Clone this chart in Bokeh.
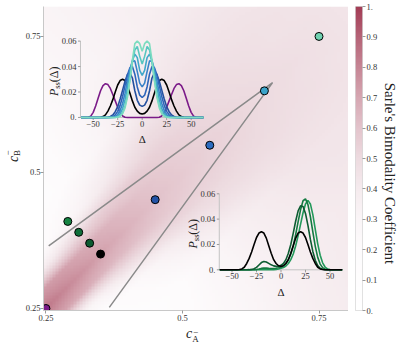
import numpy as np
from bokeh.plotting import figure
from bokeh.models import (Range1d, LinearColorMapper, FixedTicker, CustomJSTickFormatter)
from bokeh.layouts import row, column
from bokeh.embed import file_html
from bokeh.resources import INLINE
from bokeh.core.properties import value

# ---------------- data ----------------
# Sarle's bimodality coefficient, tabulated along the diagonal
# s = (cA + cB)/2 (rows) against the signed offset d = cB - cA (columns)
grid_s = [0.25, 0.30, 0.35, 0.40, 0.45, 0.50, 0.55, 0.60, 0.65, 0.70, 0.75, 0.80]
grid_d = [-0.55, -0.35, -0.20, -0.12, -0.08, -0.04, 0.0, 0.04, 0.08, 0.12, 0.20, 0.35, 0.55]
bc_table = [
    [0.10, 0.10, 0.10, 0.15, 0.30, 0.72, 0.84, 0.74, 0.35, 0.15, 0.10, 0.10, 0.10],
    [0.15, 0.12, 0.12, 0.15, 0.30, 0.68, 0.78, 0.72, 0.40, 0.18, 0.12, 0.12, 0.15],
    [0.25, 0.20, 0.15, 0.22, 0.42, 0.64, 0.72, 0.68, 0.50, 0.28, 0.15, 0.15, 0.20],
    [0.30, 0.25, 0.20, 0.32, 0.48, 0.61, 0.66, 0.64, 0.55, 0.38, 0.22, 0.20, 0.25],
    [0.35, 0.30, 0.28, 0.42, 0.52, 0.58, 0.61, 0.60, 0.56, 0.46, 0.30, 0.25, 0.28],
    [0.38, 0.35, 0.35, 0.47, 0.52, 0.55, 0.57, 0.56, 0.54, 0.50, 0.38, 0.30, 0.30],
    [0.40, 0.38, 0.40, 0.48, 0.51, 0.53, 0.54, 0.53, 0.52, 0.50, 0.42, 0.33, 0.32],
    [0.42, 0.40, 0.43, 0.48, 0.50, 0.51, 0.52, 0.51, 0.50, 0.49, 0.44, 0.36, 0.34],
    [0.42, 0.42, 0.44, 0.47, 0.48, 0.49, 0.50, 0.49, 0.48, 0.47, 0.44, 0.38, 0.35],
    [0.42, 0.42, 0.44, 0.46, 0.47, 0.47, 0.48, 0.47, 0.46, 0.46, 0.44, 0.40, 0.38],
    [0.42, 0.42, 0.43, 0.45, 0.45, 0.46, 0.46, 0.46, 0.45, 0.45, 0.43, 0.41, 0.40],
    [0.42, 0.42, 0.43, 0.44, 0.44, 0.44, 0.44, 0.44, 0.44, 0.44, 0.43, 0.42, 0.42],
]

point_cA = [0.25, 0.35, 0.33, 0.31, 0.29, 0.45, 0.55, 0.65, 0.75]
point_cB = [0.25, 0.35, 0.37, 0.39, 0.41, 0.45, 0.55, 0.65, 0.75]
point_colors = ["#7b1a88", "#000000", "#0b5a30", "#0f6e3a", "#178443",
                "#2353a6", "#2c6cc0", "#3aa3c9", "#6fd1b0"]

wedge_cA = [0.255, 0.665, 0.366]
wedge_cB = [0.365, 0.665, 0.252]

main_ticks = [0.25, 0.5, 0.75]
cbar_ticks = [0.0, 0.1, 0.2, 0.3, 0.4, 0.5, 0.6, 0.7, 0.8, 0.9, 1.0]
cbar_title = "Sarle's Bimodality Coefficient"

# P_ss(Delta) curves, Delta >= 0 half (symmetric distributions)
delta_half = [0, 2.5, 5, 7.5, 10, 12.5, 15, 17.5, 20, 22.5, 25, 27.5, 30,
              32.5, 35, 37.5, 40, 42.5, 45, 47.5, 50, 52.5, 55, 57.5, 60, 62.5]
purple_half = [0, 0, 0, 0, 0, 0, 0, 0.0002, 0.0012, 0.004, 0.008, 0.013, 0.018,
               0.0228, 0.0258, 0.0265, 0.025, 0.021, 0.015, 0.009, 0.004, 0.001, 0.0002, 0, 0, 0]
black_half = [0.0027, 0.0032, 0.005, 0.008, 0.013, 0.019, 0.025, 0.029, 0.030, 0.029, 0.0255, 0.020, 0.014,
              0.009, 0.005, 0.002, 0.0007, 0.0002, 0, 0, 0, 0, 0, 0, 0, 0]
blue1_half = [0.0087, 0.0097, 0.0135, 0.021, 0.031, 0.035, 0.034, 0.0285, 0.0215, 0.0145, 0.0085, 0.0045, 0.002,
              0.0008, 0.0002, 0, 0, 0, 0, 0, 0, 0, 0, 0, 0, 0]
blue2_half = [0.0157, 0.0175, 0.024, 0.034, 0.040, 0.039, 0.0335, 0.025, 0.0165, 0.0095, 0.0048, 0.002, 0.0007,
              0.0002, 0, 0, 0, 0, 0, 0, 0, 0, 0, 0, 0, 0]
blue3_half = [0.024, 0.027, 0.036, 0.0445, 0.044, 0.038, 0.029, 0.019, 0.011, 0.0055, 0.0023, 0.0008, 0.0002,
              0, 0, 0, 0, 0, 0, 0, 0, 0, 0, 0, 0, 0]
cyan_half = [0.033, 0.037, 0.047, 0.0498, 0.045, 0.0355, 0.024, 0.014, 0.007, 0.003, 0.001, 0.0002, 0,
             0, 0, 0, 0, 0, 0, 0, 0, 0, 0, 0, 0, 0]
aqua1_half = [0.042, 0.048, 0.0558, 0.053, 0.043, 0.030, 0.018, 0.009, 0.0038, 0.0013, 0.0004, 0, 0,
              0, 0, 0, 0, 0, 0, 0, 0, 0, 0, 0, 0, 0]
aqua2_half = [0.052, 0.058, 0.063, 0.058, 0.045, 0.029, 0.016, 0.0075, 0.003, 0.001, 0.0003, 0, 0,
              0, 0, 0, 0, 0, 0, 0, 0, 0, 0, 0, 0, 0]
upper_curves = [purple_half, black_half, blue1_half, blue2_half, blue3_half, cyan_half, aqua1_half, aqua2_half]
upper_colors = ["#7b1a88", "#000000", "#24509f", "#2d64ba", "#3982c8", "#41a8ca", "#58c6c0", "#7ddcc0"]

# lower inset: full Delta grid -62.5 .. 62.5
green1 = [0] * 12 + [0.0001, 0.0003, 0.0008, 0.0019, 0.0038, 0.0057, 0.0066, 0.0062, 0.0051, 0.0039, 0.0031,
                     0.0027, 0.0028, 0.0035, 0.005, 0.008, 0.013, 0.020, 0.029, 0.0385, 0.0465, 0.0505, 0.050,
                     0.0445, 0.035, 0.024, 0.0145, 0.0075, 0.0033, 0.0012, 0.0004, 0.0001] + [0] * 7
green2 = [0] * 15 + [0.0002, 0.0006, 0.0011, 0.0014, 0.0013, 0.0011, 0.001, 0.001, 0.0012, 0.0016, 0.0022,
                     0.0033, 0.005, 0.008, 0.0125, 0.019, 0.028, 0.038, 0.0475, 0.0545, 0.056, 0.0515, 0.042,
                     0.030, 0.0185, 0.0098, 0.0045, 0.0017, 0.0005, 0.0001] + [0] * 6
green3 = [0] * 22 + [0.0001, 0.0003, 0.0007, 0.0012, 0.0018, 0.003, 0.005, 0.008, 0.0125, 0.019, 0.027, 0.036,
                     0.045, 0.052, 0.0548, 0.052, 0.0435, 0.032, 0.0205, 0.0115, 0.0055, 0.0022, 0.0007,
                     0.0002] + [0] * 5
lower_colors = ["#0d5c32", "#147a41", "#22985a"]

inset_yticks = [0.0, 0.02, 0.04, 0.06]
inset_ytick_labels = ["0.", "0.02", "0.04", "0.06"]
inset_xticks = [-50, -25, 0, 25, 50]
inset_xtick_labels = ["\u221250", "\u221225", "0", "25", "50"]

# ---------------- styling / layout ----------------
SERIF = "Liberation Serif"
TXT = "#222222"
X0, X1 = 0.2455, 0.804
Y0, Y1 = 0.2463, 0.805
N = 101

anchors_v = [0.0, 0.2, 0.3, 0.4, 0.5, 0.6, 0.7, 0.8, 0.9, 1.0]
anchors_rgb = [(255, 255, 255), (253, 251, 252), (250, 245, 247), (245, 235, 238), (237, 219, 224),
               (227, 196, 204), (214, 167, 178), (198, 134, 149), (181, 99, 119), (163, 60, 85)]
lv = np.linspace(0, 1, 256)
ch = [np.interp(lv, anchors_v, [c[k] for c in anchors_rgb]) for k in range(3)]
palette = ["#%02x%02x%02x" % (int(round(r)), int(round(g)), int(round(b))) for r, g, b in zip(*ch)]
mapper = LinearColorMapper(palette=palette, low=0, high=1)

# field on the map grid
xs = X0 + (np.arange(N) + 0.5) * (X1 - X0) / N
ys = Y0 + (np.arange(N) + 0.5) * (Y1 - Y0) / N
CA, CB = np.meshgrid(xs, ys)
S = ((CA + CB) / 2).ravel()
D = (CB - CA).ravel()
tab = np.array(bc_table)
gs = np.array(grid_s)
rows_d = np.array([np.interp(D, grid_d, tab[k]) for k in range(len(grid_s))])
idx = np.clip(np.searchsorted(gs, S) - 1, 0, len(gs) - 2)
t = np.clip((S - gs[idx]) / (gs[idx + 1] - gs[idx]), 0, 1)
cols = np.arange(S.size)
field = (rows_d[idx, cols] * (1 - t) + rows_d[idx + 1, cols] * t).reshape(N, N)

p = figure(frame_width=305, frame_height=304, x_range=Range1d(X0, X1), y_range=Range1d(Y0, Y1),
           output_backend="svg", toolbar_location=None, min_border_left=18, min_border_right=0,
           min_border_top=6, min_border_bottom=15)
p.grid.visible = False
p.outline_line_color = None
p.image(image=[field], x=X0, y=Y0, dw=X1 - X0, dh=Y1 - Y0, color_mapper=mapper)

for ax in (p.xaxis[0], p.yaxis[0]):
    ax.ticker = FixedTicker(ticks=main_ticks, minor_ticks=[])
    ax.formatter = CustomJSTickFormatter(code="return String(+tick.toFixed(2))")
    ax.axis_line_color = "#c8c8c8"
    ax.major_tick_line_color = "#9a9a9a"
    ax.major_tick_out = 3
    ax.major_tick_in = 0
    ax.major_label_standoff = 0
    ax.major_label_text_font = SERIF
    ax.major_label_text_font_size = "8.5px"
    ax.major_label_text_color = "#333333"
p.xaxis[0].major_label_standoff = 1

p.line(wedge_cA, wedge_cB, line_color="#8a8a8a", line_width=1.5)


def inset(tx, ty):
    sub = p.subplot(x_source=Range1d(-63, 63), y_source=Range1d(0, 0.06),
                    x_target=Range1d(*tx), y_target=Range1d(*ty))
    sub.segment(x0=[-63, -63], y0=[0, 0], x1=[63, -63], y1=[0, 0.06], line_color="#c4c4c4", line_width=1)
    sub.segment(x0=[-63] * 4, y0=inset_yticks, x1=[-65.5] * 4, y1=inset_yticks,
                line_color="#9a9a9a", line_width=1)
    sub.segment(x0=inset_xticks, y0=[0] * 5, x1=inset_xticks, y1=[-0.002] * 5,
                line_color="#9a9a9a", line_width=1)
    sub.text(x=[-67] * 4, y=inset_yticks, text=inset_ytick_labels, text_font=value(SERIF),
             text_font_size="8.5px", text_align="right", text_baseline="middle", text_color="#333333")
    sub.text(x=inset_xticks, y=[-0.005] * 5, text=inset_xtick_labels, text_font=value(SERIF),
             text_font_size="8.5px", text_align="center", text_baseline="middle", text_color="#333333")
    sub.text(x=[0], y=[-0.0172], text=["\u0394"], text_font=value(SERIF), text_font_size="11px",
             text_align="center", text_baseline="middle", text_color=TXT)
    sub.text(x=[-90], y=[0.0197], text=["P"], text_font=value(SERIF), text_font_size="12px",
             text_font_style="italic", angle=np.pi / 2, text_align="center", text_baseline="middle",
             text_color=TXT)
    sub.text(x=[-87], y=[0.0252], text=["ss"], text_font=value(SERIF), text_font_size="8.5px",
             angle=np.pi / 2, text_align="center", text_baseline="middle", text_color=TXT)
    sub.text(x=[-90], y=[0.0338], text=["(\u0394)"], text_font=value(SERIF), text_font_size="12px",
             angle=np.pi / 2, text_align="center", text_baseline="middle", text_color=TXT)
    return sub


full_delta = [-d for d in reversed(delta_half[1:])] + delta_half


def mirror(h):
    return list(reversed(h[1:])) + list(h)


up = inset((0.3132, 0.5392), (0.6011, 0.7414))
for curve, col in zip(upper_curves, upper_colors):
    up.line(full_delta, np.minimum(mirror(curve), 0.06), line_color=col, line_width=1.6)

lo = inset((0.5674, 0.7934), (0.3211, 0.4608))
for curve, col in zip([green3, green2, green1], lower_colors[::-1]):
    lo.line(full_delta, np.minimum(curve, 0.06), line_color=col, line_width=1.6)
lo.line(full_delta, mirror(black_half), line_color="#000000", line_width=1.6)

p.scatter(point_cA, point_cB, size=8, fill_color=point_colors, line_color="#000000", line_width=1)


def label_strip(w, h):
    f = figure(width=w, height=h, x_range=Range1d(0, w), y_range=Range1d(h, 0), output_backend="svg",
               toolbar_location=None, min_border=0, x_axis_location=None, y_axis_location=None)
    f.grid.visible = False
    f.outline_line_color = None
    return f


# y axis label  c_B^-  (left strip, pixel coordinates)
ylab = label_strip(22, 325)
ylab.text(x=[12.5], y=[163], text=["c"], text_font=value(SERIF), text_font_size="14px",
          text_font_style="italic", angle=np.pi / 2, text_align="center", text_baseline="middle",
          text_color=TXT)
ylab.text(x=[16.3, 7.5], y=[156.5, 156.5], text=["B", "\u2212"], text_font=value(SERIF),
          text_font_size="9px", angle=np.pi / 2, text_align="center", text_baseline="middle",
          text_color=TXT)

# x axis label  c_A^-  (bottom strip, pixel coordinates)
xlab = label_strip(397, 30)
xlab.text(x=[188.7], y=[8], text=["c"], text_font=value(SERIF), text_font_size="14px",
          text_font_style="italic", text_align="center", text_baseline="middle", text_color=TXT)
xlab.text(x=[195, 195], y=[13.5, 6.0], text=["A", "\u2212"], text_font=value(SERIF),
          text_font_size="9px", text_align="center", text_baseline="middle", text_color=TXT)

# colour bar
cb = figure(frame_width=7, frame_height=304, x_range=Range1d(0, 1), y_range=Range1d(0, 1),
            output_backend="svg", toolbar_location=None, min_border_left=7, min_border_right=15,
            min_border_top=6, min_border_bottom=15, x_axis_location=None, y_axis_location="right")
cb.grid.visible = False
cb.outline_line_color = "#d8d8d8"
cb.image(image=[lv.reshape(256, 1)], x=0, y=0, dw=1, dh=1, color_mapper=mapper)
ay = cb.yaxis[0]
ay.ticker = FixedTicker(ticks=cbar_ticks, minor_ticks=[])
ay.formatter = CustomJSTickFormatter(code="return tick == 0 ? '0.' : (tick == 1 ? '1.' : tick.toFixed(1))")
ay.axis_line_color = None
ay.major_tick_line_color = "#9a9a9a"
ay.major_tick_out = 3
ay.major_tick_in = 0
ay.major_label_standoff = 1
ay.major_label_text_font = SERIF
ay.major_label_text_font_size = "8.5px"
ay.major_label_text_color = "#333333"

# colour-bar title (right strip, pixel coordinates)
tlab = label_strip(23, 325)
tlab.text(x=[9.5], y=[178.5], text=[cbar_title], text_font=value(SERIF), text_font_size="15px",
          angle=-np.pi / 2, text_align="center", text_baseline="middle", text_color=TXT)

layout = column(row(ylab, p, cb, tlab), xlab)
open("out.html", "w").write(file_html(layout, INLINE))
